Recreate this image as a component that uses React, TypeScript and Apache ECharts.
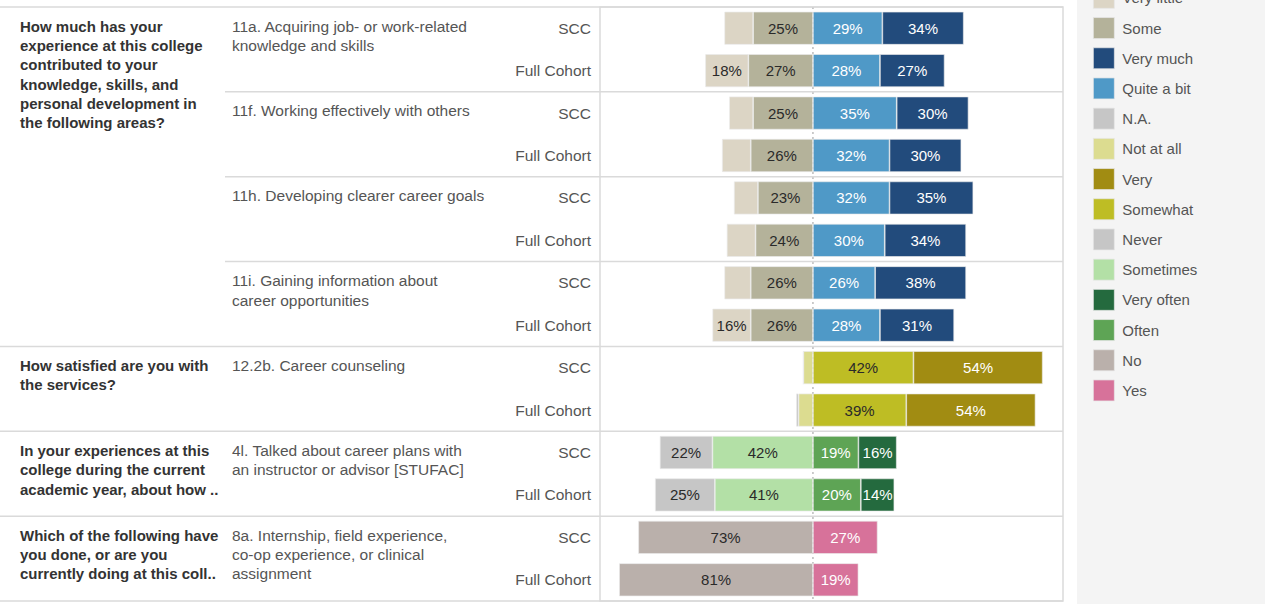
import React, { useEffect, useRef } from "react";
import * as echarts from "echarts";

// ---------- data ----------
const rowKeys = [
  "11a|SCC", "11a|Full Cohort",
  "11f|SCC", "11f|Full Cohort",
  "11h|SCC", "11h|Full Cohort",
  "11i|SCC", "11i|Full Cohort",
  "12.2b|SCC", "12.2b|Full Cohort",
  "4l|SCC", "4l|Full Cohort",
  "8a|SCC", "8a|Full Cohort",
];

const itemLabels = [
  "11a. Acquiring job- or work-related\nknowledge and skills",
  "11f. Working effectively with others",
  "11h. Developing clearer career goals",
  "11i. Gaining information about\ncareer opportunities",
  "12.2b. Career counseling",
  "4l. Talked about career plans with\nan instructor or advisor [STUFAC]",
  "8a. Internship, field experience,\nco-op experience, or clinical\nassignment",
];

const questionLabels = [
  "How much has your\nexperience at this college\ncontributed to your\nknowledge, skills, and\npersonal development in\nthe following areas?",
  "How satisfied are you with\nthe services?",
  "In your experiences at this\ncollege during the current\nacademic year, about how ..",
  "Which of the following have\nyou done, or are you\ncurrently doing at this coll..",
];
// index of the item section where each question starts
const questionStartItem = [0, 4, 5, 6];

const veryLittle = [12, 18, 10, 12, 10, 12, 11, 16, null, null, null, null, null, null];
const some = [25, 27, 25, 26, 23, 24, 26, 26, null, null, null, null, null, null];
const quiteABit = [29, 28, 35, 32, 32, 30, 26, 28, null, null, null, null, null, null];
const veryMuch = [34, 27, 30, 30, 35, 34, 38, 31, null, null, null, null, null, null];
const naVals = [null, null, null, null, null, null, null, null, 0, 1, null, null, null, null];
const notAtAll = [null, null, null, null, null, null, null, null, 4, 6, null, null, null, null];
const somewhat = [null, null, null, null, null, null, null, null, 42, 39, null, null, null, null];
const very = [null, null, null, null, null, null, null, null, 54, 54, null, null, null, null];
const never = [null, null, null, null, null, null, null, null, null, null, 22, 25, null, null];
const sometimes = [null, null, null, null, null, null, null, null, null, null, 42, 41, null, null];
const often = [null, null, null, null, null, null, null, null, null, null, 19, 20, null, null];
const veryOften = [null, null, null, null, null, null, null, null, null, null, 16, 14, null, null];
const noVals = [null, null, null, null, null, null, null, null, null, null, null, null, 73, 81];
const yesVals = [null, null, null, null, null, null, null, null, null, null, null, null, 27, 19];

const legendOrder = [
  "Very little", "Some", "Very much", "Quite a bit", "N.A.", "Not at all", "Very",
  "Somewhat", "Never", "Sometimes", "Very often", "Often", "No", "Yes",
];

// stacking order: nearest to the zero line first; side -1 = left
const seriesDefs = [
  { name: "Some", data: some, side: -1, color: "#b4b29a", text: "#2a2a2a" },
  { name: "Very little", data: veryLittle, side: -1, color: "#dcd5c5", text: "#2a2a2a" },
  { name: "Quite a bit", data: quiteABit, side: 1, color: "#4f99c7", text: "#ffffff" },
  { name: "Very much", data: veryMuch, side: 1, color: "#224b7c", text: "#ffffff" },
  { name: "Not at all", data: notAtAll, side: -1, color: "#dcdc90", text: "#2a2a2a" },
  { name: "N.A.", data: naVals, side: -1, color: "#c6c6c6", text: "#2a2a2a" },
  { name: "Somewhat", data: somewhat, side: 1, color: "#bebd24", text: "#2a2a2a" },
  { name: "Very", data: very, side: 1, color: "#a18c12", text: "#ffffff" },
  { name: "Sometimes", data: sometimes, side: -1, color: "#b3e0a6", text: "#2a2a2a" },
  { name: "Never", data: never, side: -1, color: "#c6c6c6", text: "#2a2a2a" },
  { name: "Often", data: often, side: 1, color: "#5ea455", text: "#ffffff" },
  { name: "Very often", data: veryOften, side: 1, color: "#246a3e", text: "#ffffff" },
  { name: "No", data: noVals, side: -1, color: "#bab0ab", text: "#2a2a2a" },
  { name: "Yes", data: yesVals, side: 1, color: "#d7729a", text: "#ffffff" },
];

const xMin = -89;
const xMax = 104.5;
const labelMin = 13;

const FONT = "'Liberation Sans', Arial, sans-serif";
const LINE = "#dadada";

export default function App() {
  const ref = useRef<HTMLDivElement>(null);

  useEffect(() => {
    if (!ref.current) return;
    document.body.style.margin = "0";
    const chart = echarts.init(ref.current, undefined, { renderer: "svg" });

    const gridLeft = 600;
    const gridTop = 7;
    const gridWidth = 463;
    const gridHeight = 594;

    const series = seriesDefs.map((d) => ({
      name: d.name,
      type: "bar",
      stack: "total",
      barWidth: 33,
      z: 2,
      data: d.data.map((v) => (v == null ? null : d.side * v)),
      itemStyle: { color: d.color, borderColor: "rgba(235,235,235,0.9)", borderWidth: 0.7 },
      label: {
        show: true,
        position: "inside",
        color: d.text,
        fontFamily: FONT,
        fontSize: 15,
        formatter: (p: any) => {
          const a = Math.abs(p.value);
          return a >= labelMin ? a + "%" : "";
        },
      },
      emphasis: { disabled: true },
    }));

    chart.setOption({
      animation: false,
      backgroundColor: "#ffffff",
      textStyle: { fontFamily: FONT },
      grid: {
        left: gridLeft,
        top: gridTop,
        width: gridWidth,
        height: gridHeight,
        show: true,
        borderColor: LINE,
        borderWidth: 1.5,
        containLabel: false,
      },
      xAxis: {
        type: "value",
        min: xMin,
        max: xMax,
        show: false,
        splitLine: { show: false },
      },
      yAxis: {
        type: "category",
        inverse: true,
        data: rowKeys,
        axisLine: { show: false },
        axisTick: { show: false },
        splitLine: { show: false },
        axisLabel: {
          margin: 9,
          color: "#555555",
          fontSize: 15.5,
          fontFamily: FONT,
          formatter: (v: string) => v.split("|")[1],
        },
      },
      legend: {
        orient: "vertical",
        left: 1093,
        top: -13,
        itemWidth: 21,
        itemHeight: 21,
        itemGap: 8.5,
        icon: "rect",
        padding: 0,
        data: legendOrder,
        textStyle: { color: "#555555", fontSize: 15, fontFamily: FONT, padding: [0, 0, 0, 3] },
        itemStyle: { borderColor: "#e6e6e6", borderWidth: 0.7 },
      },
      tooltip: { show: false },
      series,
    });

    const yc = (i: number) => chart.convertToPixel({ yAxisIndex: 0 }, rowKeys[i]) as number;
    const band = yc(1) - yc(0);
    const x0 = chart.convertToPixel({ xAxisIndex: 0 }, 0) as number;
    const right = gridLeft + gridWidth;

    const elements: any[] = [];
    // legend panel
    elements.push({
      type: "rect",
      shape: { x: 1077, y: 0, width: 188, height: 604 },
      style: { fill: "#f4f4f4" },
      z: -10,
      silent: true,
    });
    // zero dotted line
    elements.push({
      type: "line",
      shape: { x1: x0, y1: gridTop, x2: x0, y2: gridTop + gridHeight },
      style: { stroke: "#9a9a9a", lineWidth: 1, lineDash: [2, 3] },
      z: 0,
      silent: true,
    });

    const nItems = itemLabels.length;
    for (let s = 0; s <= nItems; s++) {
      const yTop = s < nItems ? yc(s * 2) - band / 2 : yc(rowKeys.length - 1) + band / 2;
      const isQ = s === nItems || questionStartItem.indexOf(s) >= 0;
      elements.push({
        type: "line",
        shape: { x1: isQ ? 0 : 225, y1: yTop, x2: right, y2: yTop },
        style: { stroke: LINE, lineWidth: 1.5 },
        z: 1,
        silent: true,
      });
      if (s < nItems) {
        elements.push({
          type: "text",
          x: 232,
          y: yTop + 9.5,
          style: {
            text: itemLabels[s],
            fill: "#555555",
            font: `15.5px ${FONT}`,
            lineHeight: 19.3,
            verticalAlign: "top",
          },
          silent: true,
        });
      }
    }
    questionLabels.forEach((q, qi) => {
      const s = questionStartItem[qi];
      const yTop = yc(s * 2) - band / 2;
      elements.push({
        type: "text",
        x: 20,
        y: yTop + 9.5,
        style: {
          text: q,
          fill: "#333333",
          font: `bold 15px ${FONT}`,
          lineHeight: 19.3,
          verticalAlign: "top",
        },
        silent: true,
      });
    });

    chart.setOption({ graphic: { elements } });

    return () => chart.dispose();
  }, []);

  return (
    <div style={{ position: "fixed", left: 0, top: 0, width: 1265, height: 604 }}>
      <div ref={ref} style={{ width: 1265, height: 604 }} />
    </div>
  );
}
